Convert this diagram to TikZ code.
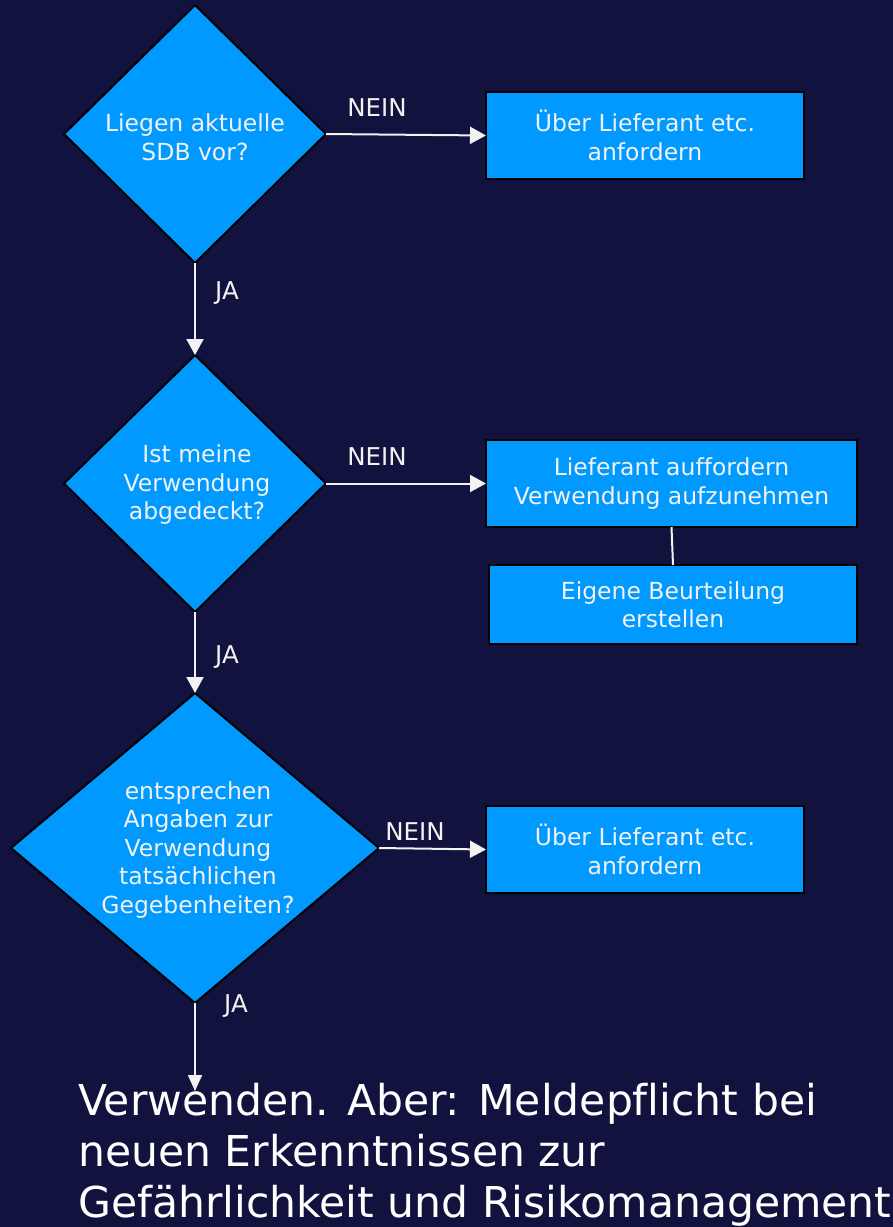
\documentclass[tikz,border=0pt]{standalone}
\usepackage{fontspec}
\setmainfont{DejaVu Sans}[Ligatures={NoCommon}]
\usetikzlibrary{shapes.geometric,arrows.meta}
\definecolor{bgnavy}{HTML}{12123F}
\definecolor{flowblue}{HTML}{0099FF}
\definecolor{txtwhite}{HTML}{F2F2F2}
\tikzset{
  decision/.style={shape=diamond, draw=black, line width=2pt, fill=flowblue,
    inner sep=0pt, outer sep=0pt},
  actionbox/.style={draw=black, line width=2.5pt, fill=flowblue, inner sep=0pt,
    outer sep=0pt, text=txtwhite, align=center,
    font=\fontsize{23.5}{28.5}\selectfont},
  qtext/.style={text=txtwhite, align=center, inner sep=0pt,
    font=\fontsize{23.5}{28.5}\selectfont},
  branch/.style={text=txtwhite, inner sep=0pt,
    font=\fontsize{24.5}{28}\selectfont},
  flow/.style={draw=txtwhite, line width=2pt,
    -{Triangle[length=16pt,width=17pt]}},
  endflow/.style={draw=txtwhite, line width=1.6pt,
    -{Triangle[length=16pt,width=14pt]}},
  plainlink/.style={draw=txtwhite, line width=2pt}
}
\begin{document}
\begin{tikzpicture}[x=1pt,y=-1pt]
  % canvas
  \fill[bgnavy] (0,0) rectangle (893,1227);
  \useasboundingbox (0,0) rectangle (893,1227);

  % decisions
  \node[decision, minimum width=262pt, minimum height=258pt] (d1) at (195,134) {};
  \node[qtext] (q1) at (195,137) {Liegen aktuelle\\SDB vor?};
  \node[decision, minimum width=262pt, minimum height=257pt] (d2) at (195,483.5) {};
  \node[qtext] (q2) at (197,485) {Ist meine\\Verwendung\\abgedeckt?};
  \node[decision, minimum width=368pt, minimum height=310pt] (d3) at (195,848) {};
  \node[qtext] (q3) at (198,850) {entsprechen\\Angaben zur\\Verwendung\\tatsächlichen\\Gegebenheiten?};

  % actions
  \node[actionbox, minimum width=318pt, minimum height=87pt] (b1) at (645,135.5)
    {Über Lieferant etc.\\anfordern};
  \node[actionbox, minimum width=371pt, minimum height=87pt] (b2) at (671.5,483.5)
    {Lieferant auffordern\\Verwendung aufzunehmen};
  \node[actionbox, minimum width=368pt, minimum height=79pt] (b3) at (673,604.5)
    {Eigene Beurteilung\\erstellen};
  \node[actionbox, minimum width=318pt, minimum height=87pt] (b4) at (645,849.5)
    {Über Lieferant etc.\\anfordern};

  % final statement
  \node[text=white, anchor=north west, align=left, inner sep=0pt,
        font=\fontsize{42.5}{51}\selectfont] (fin) at (78,1083)
    {Verwenden. Aber: Meldepflicht bei\\neuen Erkenntnissen zur\\Gefährlichkeit und Risikomanagement};
  \coordinate (fintip) at (195,1091);

  % NEIN branches
  \draw[flow] (d1.east) -- (b1.west);
  \draw[flow] (d2.east) -- (b2.west);
  \draw[flow] (d3.east) -- (b4.west);
  \draw[plainlink] (b2.south) -- (b3.north);

  % JA branches
  \draw[flow] (d1.south) -- (d2.north);
  \draw[flow] (d2.south) -- (d3.north);
  \draw[endflow] (d3.south) -- (fintip);

  % branch labels
  \node[branch] (n1) at (377,108) {NEIN};
  \node[branch] (n2) at (377,457) {NEIN};
  \node[branch] (n3) at (415,832) {NEIN};
  \node[branch] (j1) at (227,293) {JA};
  \node[branch] (j2) at (227,657) {JA};
  \node[branch] (j3) at (236,1006) {JA};
\end{tikzpicture}
\end{document}
